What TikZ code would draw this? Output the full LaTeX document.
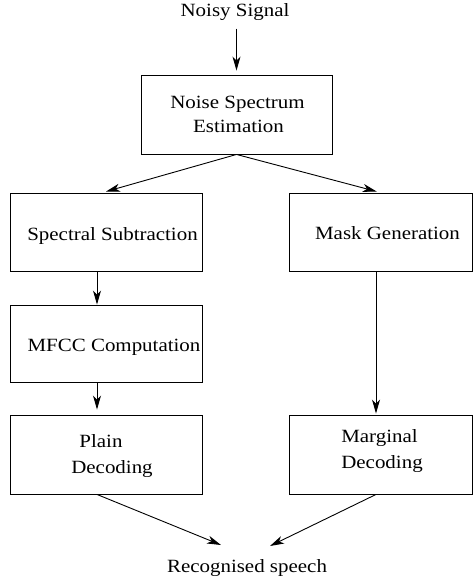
\documentclass[tikz,border=0pt]{standalone}
\usepackage{fontspec}
\setmainfont{Liberation Serif}[FakeStretch=1.12]
\usetikzlibrary{arrows.meta}
\begin{document}
\begin{tikzpicture}[x=1bp,y=-1bp,
  box/.style={draw,line width=0.9bp,rectangle,inner sep=0pt},
  lbl/.style={anchor=base,inner sep=0pt,font=\fontsize{18.7bp}{22bp}\selectfont},
  conn/.style={line width=0.9bp,-{Stealth[length=14bp,width=8bp,inset=4bp]}},
  plain line/.style={line width=0.9bp}]
\useasboundingbox (0,0) rectangle (473,578);
% boxes
\node[box,minimum width=191bp,minimum height=79bp] (nse) at (236.5,114.5) {};
\node[box,minimum width=192bp,minimum height=78bp] (ss) at (106,232) {};
\node[box,minimum width=183.5bp,minimum height=78bp] (mg) at (380.75,232) {};
\node[box,minimum width=192bp,minimum height=77bp] (mfcc) at (106,343.5) {};
\node[box,minimum width=192bp,minimum height=79bp] (pd) at (106,454.5) {};
\node[box,minimum width=183.5bp,minimum height=79bp] (md) at (380.75,454.5) {};
% texts
\node[lbl] (noisy) at (235,16.5) {Noisy Signal};
\node[lbl] (nset1) at (237.5,109) {Noise Spectrum};
\node[lbl] (nset2) at (238.5,133) {Estimation};
\node[lbl] (sst) at (112.5,240) {Spectral Subtraction};
\node[lbl] (mgt) at (387.5,239) {Mask Generation};
\node[lbl] (mfcct) at (114,351) {MFCC Computation};
\node[lbl] (pdt1) at (101,447) {Plain};
\node[lbl] (pdt2) at (112,473) {Decoding};
\node[lbl] (mdt1) at (379.5,442) {Marginal};
\node[lbl] (mdt2) at (382,468) {Decoding};
\node[lbl] (rec) at (247,572) {Recognised speech};
\coordinate (r1) at (221,545);
\coordinate (r2) at (270,546);
% connectors
\draw[conn,shorten <=8bp,shorten >=4bp] (noisy.south -| nse.north) -- (nse.north);
\draw[conn] (nse.south) -- ([yshift=1bp]ss.north);
\draw[conn] (nse.south) -- ([xshift=-4bp,yshift=1bp]mg.north);
\draw[conn] ([xshift=-9bp]ss.south) -- ([xshift=-9bp]mfcc.north);
\draw[conn,shorten >=5bp] ([xshift=-9bp]mfcc.south) -- ([xshift=-9bp]pd.north);
\draw[conn] ([xshift=-4.75bp]mg.south) -- ([xshift=-4.75bp,yshift=1bp]md.north);
\draw[conn] ([xshift=-9bp]pd.south) -- (r1);
\draw[conn] ([xshift=-4.75bp]md.south) -- (r2);
\end{tikzpicture}
\end{document}
